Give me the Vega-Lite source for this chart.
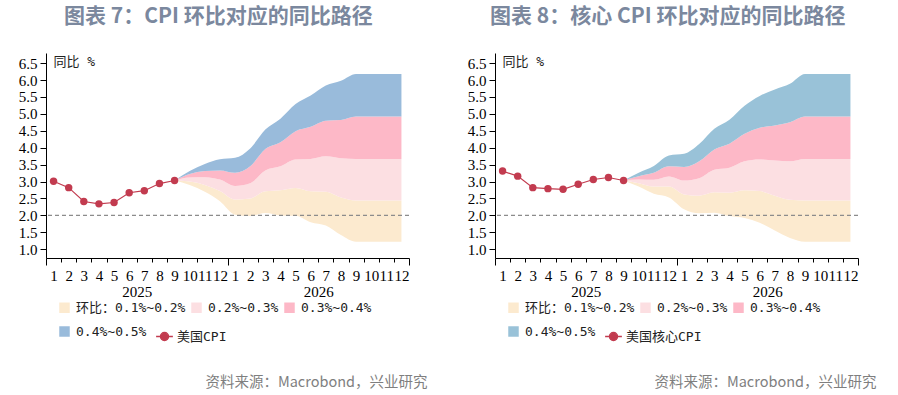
{
  "$schema": "https://vega.github.io/schema/vega-lite/v6.json",
  "background": "white",
  "padding": {"left": 18, "top": 6, "right": 5, "bottom": 5},
  "config": {"view": {"stroke": null}},
  "datasets": {
    "fanL": [
      {"t": 8.5, "L1": 3.03, "L2": 3.03, "L3": 3.03, "L4": 3.03, "L5": 3.03},
      {"t": 9.5, "L1": 2.90, "L2": 3.00, "L3": 3.12, "L4": 3.22, "L5": 3.31},
      {"t": 10.5, "L1": 2.70, "L2": 2.90, "L3": 3.13, "L4": 3.31, "L5": 3.52},
      {"t": 11.5, "L1": 2.42, "L2": 2.72, "L3": 3.06, "L4": 3.33, "L5": 3.66},
      {"t": 12.5, "L1": 2.02, "L2": 2.47, "L3": 2.87, "L4": 3.26, "L5": 3.70},
      {"t": 13.5, "L1": 1.98, "L2": 2.50, "L3": 2.95, "L4": 3.45, "L5": 3.98},
      {"t": 14.5, "L1": 2.07, "L2": 2.71, "L3": 3.33, "L4": 3.96, "L5": 4.54},
      {"t": 15.5, "L1": 2.00, "L2": 2.74, "L3": 3.45, "L4": 4.16, "L5": 4.86},
      {"t": 16.5, "L1": 1.99, "L2": 2.81, "L3": 3.65, "L4": 4.49, "L5": 5.29},
      {"t": 17.5, "L1": 1.80, "L2": 2.71, "L3": 3.67, "L4": 4.62, "L5": 5.54},
      {"t": 18.5, "L1": 1.70, "L2": 2.70, "L3": 3.75, "L4": 4.80, "L5": 5.84},
      {"t": 19.5, "L1": 1.42, "L2": 2.53, "L3": 3.69, "L4": 4.82, "L5": 5.98},
      {"t": 20.5, "L1": 1.22, "L2": 2.44, "L3": 3.67, "L4": 4.92, "L5": 6.18},
      {"t": 21.5, "L1": 1.22, "L2": 2.44, "L3": 3.67, "L4": 4.92, "L5": 6.18},
      {"t": 22.5, "L1": 1.22, "L2": 2.44, "L3": 3.67, "L4": 4.92, "L5": 6.18},
      {"t": 23.5, "L1": 1.22, "L2": 2.44, "L3": 3.67, "L4": 4.92, "L5": 6.18}
    ],
    "fanR": [
      {"t": 8.5, "L1": 3.03, "L2": 3.03, "L3": 3.03, "L4": 3.03, "L5": 3.03},
      {"t": 9.5, "L1": 2.85, "L2": 2.95, "L3": 3.06, "L4": 3.16, "L5": 3.26},
      {"t": 10.5, "L1": 2.64, "L2": 2.85, "L3": 3.05, "L4": 3.26, "L5": 3.46},
      {"t": 11.5, "L1": 2.53, "L2": 2.85, "L3": 3.15, "L4": 3.45, "L5": 3.77},
      {"t": 12.5, "L1": 2.18, "L2": 2.62, "L3": 3.03, "L4": 3.43, "L5": 3.82},
      {"t": 13.5, "L1": 2.06, "L2": 2.58, "L3": 3.10, "L4": 3.60, "L5": 4.11},
      {"t": 14.5, "L1": 2.08, "L2": 2.68, "L3": 3.35, "L4": 3.95, "L5": 4.56},
      {"t": 15.5, "L1": 1.98, "L2": 2.67, "L3": 3.41, "L4": 4.12, "L5": 4.83},
      {"t": 16.5, "L1": 1.92, "L2": 2.74, "L3": 3.60, "L4": 4.41, "L5": 5.24},
      {"t": 17.5, "L1": 1.78, "L2": 2.72, "L3": 3.65, "L4": 4.59, "L5": 5.53},
      {"t": 18.5, "L1": 1.55, "L2": 2.58, "L3": 3.62, "L4": 4.66, "L5": 5.72},
      {"t": 19.5, "L1": 1.33, "L2": 2.46, "L3": 3.60, "L4": 4.75, "L5": 5.89},
      {"t": 20.5, "L1": 1.22, "L2": 2.44, "L3": 3.67, "L4": 4.92, "L5": 6.18},
      {"t": 21.5, "L1": 1.22, "L2": 2.44, "L3": 3.67, "L4": 4.92, "L5": 6.18},
      {"t": 22.5, "L1": 1.22, "L2": 2.44, "L3": 3.67, "L4": 4.92, "L5": 6.18},
      {"t": 23.5, "L1": 1.22, "L2": 2.44, "L3": 3.67, "L4": 4.92, "L5": 6.18}
    ],
    "actL": [
      {"t": 0.5, "v": 3.01}, {"t": 1.5, "v": 2.82}, {"t": 2.5, "v": 2.41},
      {"t": 3.5, "v": 2.34}, {"t": 4.5, "v": 2.38}, {"t": 5.5, "v": 2.67},
      {"t": 6.5, "v": 2.73}, {"t": 7.5, "v": 2.94}, {"t": 8.5, "v": 3.03}
    ],
    "actR": [
      {"t": 0.5, "v": 3.31}, {"t": 1.5, "v": 3.16}, {"t": 2.5, "v": 2.82},
      {"t": 3.5, "v": 2.79}, {"t": 4.5, "v": 2.77}, {"t": 5.5, "v": 2.92},
      {"t": 6.5, "v": 3.06}, {"t": 7.5, "v": 3.12}, {"t": 8.5, "v": 3.03}
    ],
    "ref": [{"target": 2}]
  },
  "spacing": 39,
  "resolve": {
    "scale": {"color": "independent", "fill": "independent", "x": "independent", "y": "independent"},
    "legend": {"color": "independent", "fill": "independent"}
  },
  "hconcat": [
    {
      "title": {"text": "资料来源：Macrobond，兴业研究", "orient": "bottom", "anchor": "end", "frame": "bounds", "dx": 18, "offset": 32, "font": "Noto Sans CJK SC", "fontSize": 14.5, "fontWeight": "normal", "color": "#7F7F7F"},
      "vconcat": [
        {
          "width": 363,
          "height": 205,
          "title": {"text": "图表 7：CPI 环比对应的同比路径", "anchor": "start", "frame": "group", "dx": 18, "offset": 26, "font": "Noto Sans CJK SC", "fontSize": 21, "fontWeight": "bold", "color": "#7B889E"},
          "resolve": {"axis": {"x": "independent"}},
          "layer": [
            {
              "data": {"name": "fanL"},
              "mark": {"type": "area", "interpolate": "monotone"},
              "encoding": {
                "x": {"field": "t", "type": "quantitative", "scale": {"domain": [0, 24], "nice": false, "zero": false},
                  "axis": {"orient": "bottom", "values": [0,1,2,3,4,5,6,7,8,9,10,11,12,13,14,15,16,17,18,19,20,21,22,23,24], "labels": false, "ticks": true,
                    "tickSize": {"condition": {"test": "datum.value % 12 === 0", "value": 7}, "value": 4},
                    "domain": true, "domainColor": "#000", "tickColor": "#000", "grid": false, "title": null}},
                "y": {"field": "L1", "type": "quantitative", "scale": {"domain": [0.74, 6.8], "nice": false, "zero": false},
                  "axis": {"values": [1, 1.5, 2, 2.5, 3, 3.5, 4, 4.5, 5, 5.5, 6, 6.5], "format": ".1f", "tickSize": 6, "labelPadding": 3, "labelFont": "Liberation Serif", "labelFontSize": 15, "labelColor": "#000", "domainColor": "#000", "tickColor": "#000", "grid": false, "labelOverlap": false, "title": "同比 %", "titleAngle": 0, "titleAlign": "left", "titleBaseline": "middle", "titleX": 7, "titleY": 8, "titleFont": "DejaVu Sans Mono, Noto Sans CJK SC", "titleFontSize": 13, "titleFontWeight": "normal", "titleColor": "#222"}},
                "y2": {"field": "L2"},
                "color": {"datum": "环比：0.1%~0.2%",
                  "scale": {"domain": ["环比：0.1%~0.2%", "0.2%~0.3%", "0.3%~0.4%", "0.4%~0.5%"], "range": ["#FCEACF", "#FCDFE2", "#FDB8C7", "#99BBDB"]},
                  "legend": {"orient": "none", "legendX": 12, "legendY": 248, "direction": "horizontal", "columns": 3,
                    "title": null, "padding": 0, "columnPadding": 4, "rowPadding": 10, "symbolSize": 110, "labelOffset": 5,
                    "labelFont": "DejaVu Sans Mono, Noto Sans CJK SC", "labelFontSize": 13, "labelColor": "#222", "labelLimit": 300, "symbolType": "square",
                    "symbolStrokeWidth": 0, "symbolOpacity": 1}}
              }
            },
            {
              "data": {"name": "fanL"},
              "mark": {"type": "area", "interpolate": "monotone"},
              "encoding": {
                "x": {"field": "t", "type": "quantitative",
                  "axis": {"orient": "bottom", "values": [0.5,1.5,2.5,3.5,4.5,5.5,6.5,7.5,8.5,9.5,10.5,11.5,12.5,13.5,14.5,15.5,16.5,17.5,18.5,19.5,20.5,21.5,22.5,23.5],
                    "labelExpr": "'' + ((round(datum.value - 0.5) % 12) + 1)", "ticks": false, "tickSize": 0, "domain": false, "grid": false,
                    "labelPadding": 10, "labelFont": "Liberation Serif", "labelFontSize": 15, "labelColor": "#000", "labelAngle": 0,
                    "labelOverlap": false, "labelBound": false, "labelFlush": false, "title": null}},
                "y": {"field": "L2", "type": "quantitative",
                  "axis": {"values": [1, 1.5, 2, 2.5, 3, 3.5, 4, 4.5, 5, 5.5, 6, 6.5], "format": ".1f", "tickSize": 6, "labelPadding": 3, "labelFont": "Liberation Serif", "labelFontSize": 15, "labelColor": "#000", "domainColor": "#000", "tickColor": "#000", "grid": false, "labelOverlap": false, "title": "同比 %", "titleAngle": 0, "titleAlign": "left", "titleBaseline": "middle", "titleX": 7, "titleY": 8, "titleFont": "DejaVu Sans Mono, Noto Sans CJK SC", "titleFontSize": 13, "titleFontWeight": "normal", "titleColor": "#222"}},
                "y2": {"field": "L3"},
                "color": {"datum": "0.2%~0.3%"}
              }
            },
            {
              "data": {"name": "fanL"},
              "mark": {"type": "area", "interpolate": "monotone"},
              "encoding": {
                "x": {"field": "t", "type": "quantitative",
                  "axis": {"orient": "bottom", "values": [6, 18], "labelExpr": "datum.value < 12 ? '2025' : '2026'", "ticks": false, "tickSize": 0, "domain": false, "grid": false,
                    "labelPadding": 26, "labelFont": "Liberation Serif", "labelFontSize": 15, "labelColor": "#000", "labelAngle": 0,
                    "labelOverlap": false, "labelFlush": false, "title": null}},
                "y": {"field": "L3", "type": "quantitative",
                  "axis": {"values": [1, 1.5, 2, 2.5, 3, 3.5, 4, 4.5, 5, 5.5, 6, 6.5], "format": ".1f", "tickSize": 6, "labelPadding": 3, "labelFont": "Liberation Serif", "labelFontSize": 15, "labelColor": "#000", "domainColor": "#000", "tickColor": "#000", "grid": false, "labelOverlap": false, "title": "同比 %", "titleAngle": 0, "titleAlign": "left", "titleBaseline": "middle", "titleX": 7, "titleY": 8, "titleFont": "DejaVu Sans Mono, Noto Sans CJK SC", "titleFontSize": 13, "titleFontWeight": "normal", "titleColor": "#222"}},
                "y2": {"field": "L4"},
                "color": {"datum": "0.3%~0.4%"}
              }
            },
            {
              "data": {"name": "fanL"},
              "mark": {"type": "area", "interpolate": "monotone"},
              "encoding": {
                "x": {"field": "t", "type": "quantitative", "axis": null},
                "y": {"field": "L4", "type": "quantitative",
                  "axis": {"values": [1, 1.5, 2, 2.5, 3, 3.5, 4, 4.5, 5, 5.5, 6, 6.5], "format": ".1f", "tickSize": 6, "labelPadding": 3, "labelFont": "Liberation Serif", "labelFontSize": 15, "labelColor": "#000", "domainColor": "#000", "tickColor": "#000", "grid": false, "labelOverlap": false, "title": "同比 %", "titleAngle": 0, "titleAlign": "left", "titleBaseline": "middle", "titleX": 7, "titleY": 8, "titleFont": "DejaVu Sans Mono, Noto Sans CJK SC", "titleFontSize": 13, "titleFontWeight": "normal", "titleColor": "#222"}},
                "y2": {"field": "L5"},
                "color": {"datum": "0.4%~0.5%"}
              }
            },
            {
              "data": {"name": "ref"},
              "mark": {"type": "rule", "strokeDash": [4, 3], "color": "#8C8C8C", "strokeWidth": 1.2},
              "encoding": {"y": {"field": "target", "type": "quantitative",
                  "axis": {"values": [1, 1.5, 2, 2.5, 3, 3.5, 4, 4.5, 5, 5.5, 6, 6.5], "format": ".1f", "tickSize": 6, "labelPadding": 3, "labelFont": "Liberation Serif", "labelFontSize": 15, "labelColor": "#000", "domainColor": "#000", "tickColor": "#000", "grid": false, "labelOverlap": false, "title": "同比 %", "titleAngle": 0, "titleAlign": "left", "titleBaseline": "middle", "titleX": 7, "titleY": 8, "titleFont": "DejaVu Sans Mono, Noto Sans CJK SC", "titleFontSize": 13, "titleFontWeight": "normal", "titleColor": "#222"}}}
            },
            {
              "data": {"name": "actL"},
              "mark": {"type": "line", "strokeWidth": 1.2, "color": "#C23B4F"},
              "encoding": {
                "x": {"field": "t", "type": "quantitative", "axis": null},
                "y": {"field": "v", "type": "quantitative",
                  "axis": {"values": [1, 1.5, 2, 2.5, 3, 3.5, 4, 4.5, 5, 5.5, 6, 6.5], "format": ".1f", "tickSize": 6, "labelPadding": 3, "labelFont": "Liberation Serif", "labelFontSize": 15, "labelColor": "#000", "domainColor": "#000", "tickColor": "#000", "grid": false, "labelOverlap": false, "title": "同比 %", "titleAngle": 0, "titleAlign": "left", "titleBaseline": "middle", "titleX": 7, "titleY": 8, "titleFont": "DejaVu Sans Mono, Noto Sans CJK SC", "titleFontSize": 13, "titleFontWeight": "normal", "titleColor": "#222"}}
              }
            },
            {
              "data": {"name": "actL"},
              "mark": {"type": "point", "filled": true, "size": 55, "opacity": 1, "strokeWidth": 0},
              "encoding": {
                "x": {"field": "t", "type": "quantitative", "axis": null},
                "y": {"field": "v", "type": "quantitative",
                  "axis": {"values": [1, 1.5, 2, 2.5, 3, 3.5, 4, 4.5, 5, 5.5, 6, 6.5], "format": ".1f", "tickSize": 6, "labelPadding": 3, "labelFont": "Liberation Serif", "labelFontSize": 15, "labelColor": "#000", "domainColor": "#000", "tickColor": "#000", "grid": false, "labelOverlap": false, "title": "同比 %", "titleAngle": 0, "titleAlign": "left", "titleBaseline": "middle", "titleX": 7, "titleY": 8, "titleFont": "DejaVu Sans Mono, Noto Sans CJK SC", "titleFontSize": 13, "titleFontWeight": "normal", "titleColor": "#222"}},
                "fill": {"datum": "美国CPI", "scale": {"domain": ["美国CPI"], "range": ["#C23B4F"]},
                  "legend": {"orient": "none", "legendX": 112, "legendY": 277, "title": null, "padding": 0, "symbolSize": 110, "labelOffset": 6,
                    "symbolType": "M-1.6,0H1.6M-0.78,0A0.78,0.78 0 1,1 0.78,0A0.78,0.78 0 1,1 -0.78,0",
                    "symbolFillColor": "#C23B4F", "symbolStrokeColor": "#C23B4F", "symbolStrokeWidth": 1.3,
                    "labelFont": "DejaVu Sans Mono, Noto Sans CJK SC", "labelFontSize": 13, "labelColor": "#222",
                    "encode": {"symbols": {"update": {
                      "shape": {"signal": "'M-1.6,0H1.6M-0.78,0A0.78,0.78 0 1,1 0.78,0A0.78,0.78 0 1,1 -0.78,0'"},
                      "fill": {"signal": "'#C23B4F'"}, "stroke": {"signal": "'#C23B4F'"}, "strokeWidth": {"value": 1.3}, "opacity": {"value": 1}}}}}}
              }
            }
          ]
        }
      ]
    },
    {
      "title": {"text": "资料来源：Macrobond，兴业研究", "orient": "bottom", "anchor": "end", "frame": "bounds", "dx": 18, "offset": 32, "font": "Noto Sans CJK SC", "fontSize": 14.5, "fontWeight": "normal", "color": "#7F7F7F"},
      "vconcat": [
        {
          "width": 363,
          "height": 205,
          "title": {"text": "图表 8：核心 CPI 环比对应的同比路径", "anchor": "start", "frame": "group", "dx": -5, "offset": 26, "font": "Noto Sans CJK SC", "fontSize": 21, "fontWeight": "bold", "color": "#7B889E"},
          "resolve": {"axis": {"x": "independent"}},
          "layer": [
            {
              "data": {"name": "fanR"},
              "mark": {"type": "area", "interpolate": "monotone"},
              "encoding": {
                "x": {"field": "t", "type": "quantitative", "scale": {"domain": [0, 24], "nice": false, "zero": false},
                  "axis": {"orient": "bottom", "values": [0,1,2,3,4,5,6,7,8,9,10,11,12,13,14,15,16,17,18,19,20,21,22,23,24], "labels": false, "ticks": true,
                    "tickSize": {"condition": {"test": "datum.value % 12 === 0", "value": 7}, "value": 4},
                    "domain": true, "domainColor": "#000", "tickColor": "#000", "grid": false, "title": null}},
                "y": {"field": "L1", "type": "quantitative", "scale": {"domain": [0.74, 6.8], "nice": false, "zero": false},
                  "axis": {"values": [1, 1.5, 2, 2.5, 3, 3.5, 4, 4.5, 5, 5.5, 6, 6.5], "format": ".1f", "tickSize": 6, "labelPadding": 3, "labelFont": "Liberation Serif", "labelFontSize": 15, "labelColor": "#000", "domainColor": "#000", "tickColor": "#000", "grid": false, "labelOverlap": false, "title": "同比 %", "titleAngle": 0, "titleAlign": "left", "titleBaseline": "middle", "titleX": 7, "titleY": 8, "titleFont": "DejaVu Sans Mono, Noto Sans CJK SC", "titleFontSize": 13, "titleFontWeight": "normal", "titleColor": "#222"}},
                "y2": {"field": "L2"},
                "color": {"datum": "环比：0.1%~0.2%",
                  "scale": {"domain": ["环比：0.1%~0.2%", "0.2%~0.3%", "0.3%~0.4%", "0.4%~0.5%"], "range": ["#FCEACF", "#FCDFE2", "#FDB8C7", "#99C2D8"]},
                  "legend": {"orient": "none", "legendX": 12, "legendY": 248, "direction": "horizontal", "columns": 3,
                    "title": null, "padding": 0, "columnPadding": 4, "rowPadding": 10, "symbolSize": 110, "labelOffset": 5,
                    "labelFont": "DejaVu Sans Mono, Noto Sans CJK SC", "labelFontSize": 13, "labelColor": "#222", "labelLimit": 300, "symbolType": "square",
                    "symbolStrokeWidth": 0, "symbolOpacity": 1}}
              }
            },
            {
              "data": {"name": "fanR"},
              "mark": {"type": "area", "interpolate": "monotone"},
              "encoding": {
                "x": {"field": "t", "type": "quantitative",
                  "axis": {"orient": "bottom", "values": [0.5,1.5,2.5,3.5,4.5,5.5,6.5,7.5,8.5,9.5,10.5,11.5,12.5,13.5,14.5,15.5,16.5,17.5,18.5,19.5,20.5,21.5,22.5,23.5],
                    "labelExpr": "'' + ((round(datum.value - 0.5) % 12) + 1)", "ticks": false, "tickSize": 0, "domain": false, "grid": false,
                    "labelPadding": 10, "labelFont": "Liberation Serif", "labelFontSize": 15, "labelColor": "#000", "labelAngle": 0,
                    "labelOverlap": false, "labelBound": false, "labelFlush": false, "title": null}},
                "y": {"field": "L2", "type": "quantitative",
                  "axis": {"values": [1, 1.5, 2, 2.5, 3, 3.5, 4, 4.5, 5, 5.5, 6, 6.5], "format": ".1f", "tickSize": 6, "labelPadding": 3, "labelFont": "Liberation Serif", "labelFontSize": 15, "labelColor": "#000", "domainColor": "#000", "tickColor": "#000", "grid": false, "labelOverlap": false, "title": "同比 %", "titleAngle": 0, "titleAlign": "left", "titleBaseline": "middle", "titleX": 7, "titleY": 8, "titleFont": "DejaVu Sans Mono, Noto Sans CJK SC", "titleFontSize": 13, "titleFontWeight": "normal", "titleColor": "#222"}},
                "y2": {"field": "L3"},
                "color": {"datum": "0.2%~0.3%"}
              }
            },
            {
              "data": {"name": "fanR"},
              "mark": {"type": "area", "interpolate": "monotone"},
              "encoding": {
                "x": {"field": "t", "type": "quantitative",
                  "axis": {"orient": "bottom", "values": [6, 18], "labelExpr": "datum.value < 12 ? '2025' : '2026'", "ticks": false, "tickSize": 0, "domain": false, "grid": false,
                    "labelPadding": 26, "labelFont": "Liberation Serif", "labelFontSize": 15, "labelColor": "#000", "labelAngle": 0,
                    "labelOverlap": false, "labelFlush": false, "title": null}},
                "y": {"field": "L3", "type": "quantitative",
                  "axis": {"values": [1, 1.5, 2, 2.5, 3, 3.5, 4, 4.5, 5, 5.5, 6, 6.5], "format": ".1f", "tickSize": 6, "labelPadding": 3, "labelFont": "Liberation Serif", "labelFontSize": 15, "labelColor": "#000", "domainColor": "#000", "tickColor": "#000", "grid": false, "labelOverlap": false, "title": "同比 %", "titleAngle": 0, "titleAlign": "left", "titleBaseline": "middle", "titleX": 7, "titleY": 8, "titleFont": "DejaVu Sans Mono, Noto Sans CJK SC", "titleFontSize": 13, "titleFontWeight": "normal", "titleColor": "#222"}},
                "y2": {"field": "L4"},
                "color": {"datum": "0.3%~0.4%"}
              }
            },
            {
              "data": {"name": "fanR"},
              "mark": {"type": "area", "interpolate": "monotone"},
              "encoding": {
                "x": {"field": "t", "type": "quantitative", "axis": null},
                "y": {"field": "L4", "type": "quantitative",
                  "axis": {"values": [1, 1.5, 2, 2.5, 3, 3.5, 4, 4.5, 5, 5.5, 6, 6.5], "format": ".1f", "tickSize": 6, "labelPadding": 3, "labelFont": "Liberation Serif", "labelFontSize": 15, "labelColor": "#000", "domainColor": "#000", "tickColor": "#000", "grid": false, "labelOverlap": false, "title": "同比 %", "titleAngle": 0, "titleAlign": "left", "titleBaseline": "middle", "titleX": 7, "titleY": 8, "titleFont": "DejaVu Sans Mono, Noto Sans CJK SC", "titleFontSize": 13, "titleFontWeight": "normal", "titleColor": "#222"}},
                "y2": {"field": "L5"},
                "color": {"datum": "0.4%~0.5%"}
              }
            },
            {
              "data": {"name": "ref"},
              "mark": {"type": "rule", "strokeDash": [4, 3], "color": "#8C8C8C", "strokeWidth": 1.2},
              "encoding": {"y": {"field": "target", "type": "quantitative",
                  "axis": {"values": [1, 1.5, 2, 2.5, 3, 3.5, 4, 4.5, 5, 5.5, 6, 6.5], "format": ".1f", "tickSize": 6, "labelPadding": 3, "labelFont": "Liberation Serif", "labelFontSize": 15, "labelColor": "#000", "domainColor": "#000", "tickColor": "#000", "grid": false, "labelOverlap": false, "title": "同比 %", "titleAngle": 0, "titleAlign": "left", "titleBaseline": "middle", "titleX": 7, "titleY": 8, "titleFont": "DejaVu Sans Mono, Noto Sans CJK SC", "titleFontSize": 13, "titleFontWeight": "normal", "titleColor": "#222"}}}
            },
            {
              "data": {"name": "actR"},
              "mark": {"type": "line", "strokeWidth": 1.2, "color": "#C23B4F"},
              "encoding": {
                "x": {"field": "t", "type": "quantitative", "axis": null},
                "y": {"field": "v", "type": "quantitative",
                  "axis": {"values": [1, 1.5, 2, 2.5, 3, 3.5, 4, 4.5, 5, 5.5, 6, 6.5], "format": ".1f", "tickSize": 6, "labelPadding": 3, "labelFont": "Liberation Serif", "labelFontSize": 15, "labelColor": "#000", "domainColor": "#000", "tickColor": "#000", "grid": false, "labelOverlap": false, "title": "同比 %", "titleAngle": 0, "titleAlign": "left", "titleBaseline": "middle", "titleX": 7, "titleY": 8, "titleFont": "DejaVu Sans Mono, Noto Sans CJK SC", "titleFontSize": 13, "titleFontWeight": "normal", "titleColor": "#222"}}
              }
            },
            {
              "data": {"name": "actR"},
              "mark": {"type": "point", "filled": true, "size": 55, "opacity": 1, "strokeWidth": 0},
              "encoding": {
                "x": {"field": "t", "type": "quantitative", "axis": null},
                "y": {"field": "v", "type": "quantitative",
                  "axis": {"values": [1, 1.5, 2, 2.5, 3, 3.5, 4, 4.5, 5, 5.5, 6, 6.5], "format": ".1f", "tickSize": 6, "labelPadding": 3, "labelFont": "Liberation Serif", "labelFontSize": 15, "labelColor": "#000", "domainColor": "#000", "tickColor": "#000", "grid": false, "labelOverlap": false, "title": "同比 %", "titleAngle": 0, "titleAlign": "left", "titleBaseline": "middle", "titleX": 7, "titleY": 8, "titleFont": "DejaVu Sans Mono, Noto Sans CJK SC", "titleFontSize": 13, "titleFontWeight": "normal", "titleColor": "#222"}},
                "fill": {"datum": "美国核心CPI", "scale": {"domain": ["美国核心CPI"], "range": ["#C23B4F"]},
                  "legend": {"orient": "none", "legendX": 112, "legendY": 277, "title": null, "padding": 0, "symbolSize": 110, "labelOffset": 6,
                    "symbolType": "M-1.6,0H1.6M-0.78,0A0.78,0.78 0 1,1 0.78,0A0.78,0.78 0 1,1 -0.78,0",
                    "symbolFillColor": "#C23B4F", "symbolStrokeColor": "#C23B4F", "symbolStrokeWidth": 1.3,
                    "labelFont": "DejaVu Sans Mono, Noto Sans CJK SC", "labelFontSize": 13, "labelColor": "#222",
                    "encode": {"symbols": {"update": {
                      "shape": {"signal": "'M-1.6,0H1.6M-0.78,0A0.78,0.78 0 1,1 0.78,0A0.78,0.78 0 1,1 -0.78,0'"},
                      "fill": {"signal": "'#C23B4F'"}, "stroke": {"signal": "'#C23B4F'"}, "strokeWidth": {"value": 1.3}, "opacity": {"value": 1}}}}}}
              }
            }
          ]
        }
      ]
    }
  ]
}
